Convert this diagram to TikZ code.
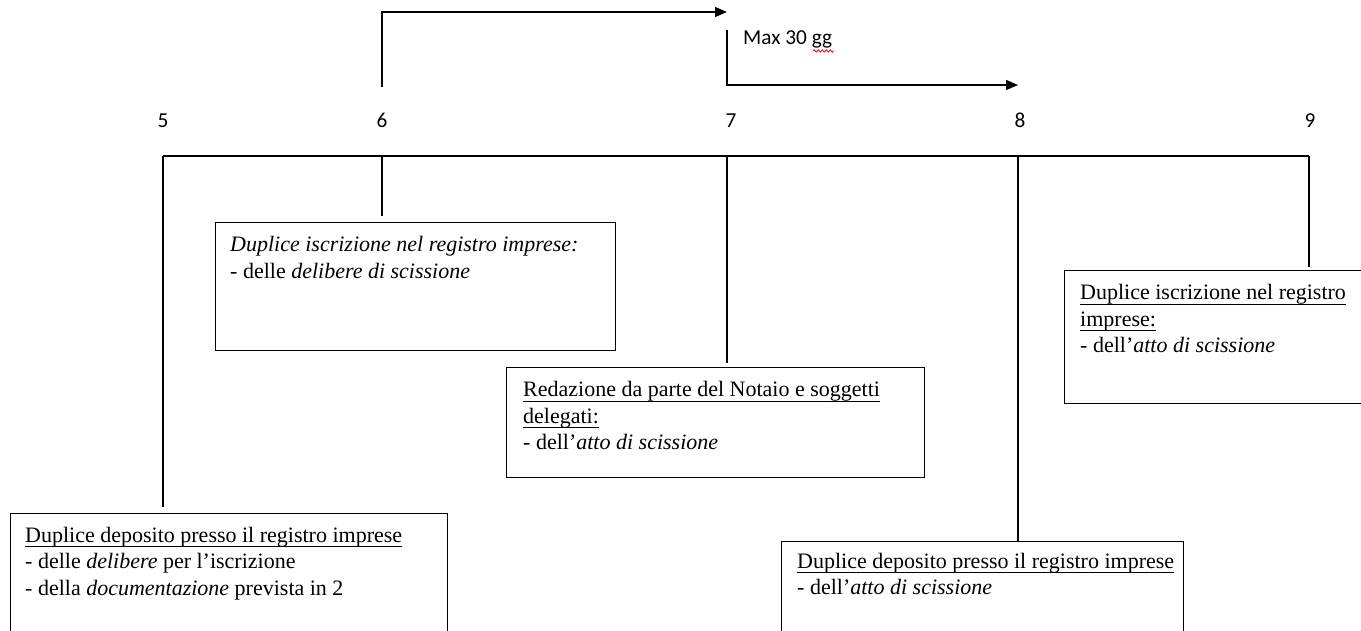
\documentclass[tikz,border=0pt]{standalone}
\usepackage{fontspec}
\setmainfont{Liberation Serif}
\newfontfamily\calibri{Carlito}
\usetikzlibrary{arrows.meta,decorations.pathmorphing}

% underline at a fixed depth below the baseline
\newcommand\underl[1]{\setbox0=\hbox{#1}\leavevmode\rlap{\rule[-5pt]{\wd0}{1.1pt}}\box0}

\begin{document}
\begin{tikzpicture}[x=1pt,y=-1pt,
  stepbox/.style={draw, line width=1pt, inner sep=0pt, anchor=north west},
  boxtext/.style={anchor=north west, inner sep=0pt, align=left,
                  font=\fontsize{22.0}{26.5}\selectfont},
  tick/.style={line width=1.1pt},
  num/.style={font=\calibri\fontsize{21.3}{24}\selectfont, anchor=base, inner sep=0pt},
  flow/.style={line width=1.1pt, -{Triangle[length=12pt,width=10pt]}}]

\useasboundingbox (0,0) rectangle (1361,631);
\clip (0,0) rectangle (1361,631);

% timeline and its ticks
\coordinate (t5) at (163,156);
\coordinate (t6) at (382,156);
\coordinate (t7) at (727,156);
\coordinate (t8) at (1018,156);
\coordinate (t9) at (1309,156);
\draw[tick] (t5) -- (t9);

% step numbers
\node[num] (n5) at (163,128) {5};
\node[num] (n6) at (382,128) {6};
\node[num] (n7) at (731,128) {7};
\node[num] (n8) at (1020,128) {8};
\node[num] (n9) at (1310,128) {9};

% time-limit arrows
\coordinate (a0) at (382,87);
\coordinate (a1) at (727,12);
\draw[flow] (a0) |- (a1);
\coordinate (b0) at (727,30);
\coordinate (b1) at (1018,85);
\draw[flow] (b0) |- (b1);
\node[num, anchor=base west] (maxgg) at (743,45) {Max 30 gg};
\draw[red, line width=0.8pt, decorate,
      decoration={snake, amplitude=1.2pt, segment length=4pt}]
  (813,51) -- (834,51);

% boxes
\node[stepbox, minimum width=400, minimum height=128] (bA) at (215,222) {};
\node[stepbox, minimum width=418, minimum height=110] (bB) at (506,367) {};
\node[stepbox, minimum width=310, minimum height=133] (bC) at (1064,270) {};
\node[stepbox, minimum width=437, minimum height=130] (bD) at (10,513) {};
\node[stepbox, minimum width=402, minimum height=100] (bE) at (781,541) {};

% box texts
\node[boxtext] (tA) at ([xshift=15pt,yshift=-14.5pt]bA.north west)
  {\itshape Duplice iscrizione nel registro imprese:\\
   - delle \textit{delibere di scissione}};
\node[boxtext] (tB) at ([xshift=17pt,yshift=-14.5pt]bB.north west)
  {\underl{Redazione da parte del Notaio e soggetti}\\
   \underl{delegati:}\\
   - dell’\textit{atto di scissione}};
\node[boxtext] (tC) at ([xshift=16pt,yshift=-14.5pt]bC.north west)
  {\underl{Duplice iscrizione nel registro}\\
   \underl{imprese:}\\
   - dell’\textit{atto di scissione}};
\node[boxtext] (tD) at ([xshift=15pt,yshift=-14pt]bD.north west)
  {\underl{Duplice deposito presso il registro imprese}\\
   - delle \textit{delibere} per l’iscrizione\\
   - della \textit{documentazione} prevista in 2};
\node[boxtext] (tE) at ([xshift=16pt,yshift=-12pt]bE.north west)
  {\underl{Duplice deposito presso il registro imprese}\\
   - dell’\textit{atto di scissione}};

% connectors from the timeline down to the boxes
\draw[tick, shorten >=6pt] (t5) -- (t5 |- bD.north);
\draw[tick, shorten >=6pt] (t6) -- (t6 |- bA.north);
\draw[tick, shorten >=4pt] (t7) -- (t7 |- bB.north);
\draw[tick] (t8) -- (t8 |- bE.north);
\draw[tick, shorten >=3pt] (t9) -- (t9 |- bC.north);
\end{tikzpicture}
\end{document}
